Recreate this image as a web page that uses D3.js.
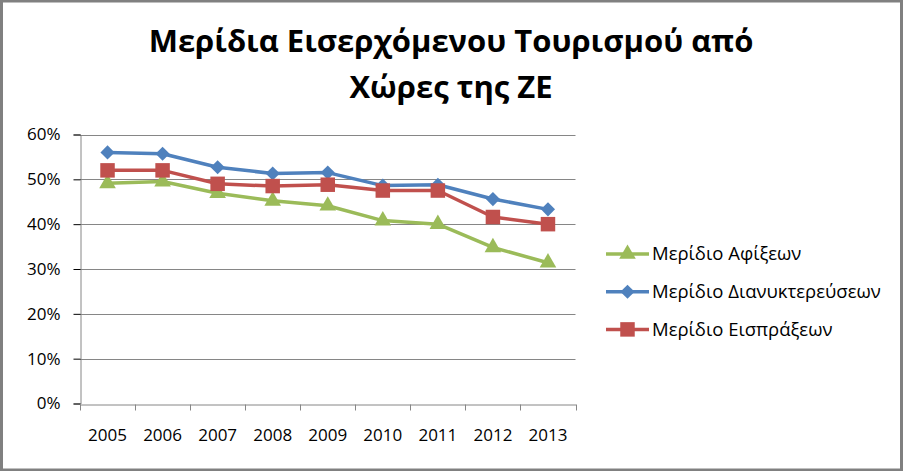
<!DOCTYPE html>
<html>
<head>
<meta charset="utf-8">
<script src="https://cdn.jsdelivr.net/npm/d3@7"></script>
<style>
  body { margin: 0; background: #fff; }
  text { font-family: "Open Sans", "Noto Sans", sans-serif; fill: #000; }
</style>
</head>
<body>
<div id="chart"></div>
<script>
var years = ["2005", "2006", "2007", "2008", "2009", "2010", "2011", "2012", "2013"];
var arrivals = [49.1, 49.5, 46.9, 45.2, 44.1, 40.8, 40.0, 34.8, 31.4];
var nights = [56.0, 55.7, 52.7, 51.3, 51.5, 48.6, 48.8, 45.6, 43.3];
var receipts = [52.0, 52.0, 49.0, 48.5, 48.8, 47.5, 47.5, 41.6, 40.0];
var seriesNames = ["Μερίδιο Αφίξεων", "Μερίδιο Διανυκτερεύσεων", "Μερίδιο Εισπράξεων"];
var yTicks = [0, 10, 20, 30, 40, 50, 60];
var titleLines = ["Μερίδια Εισερχόμενου Τουρισμού από", "Χώρες της ΖΕ"];

var width = 903, height = 471;
var plot = { left: 80, right: 575.5, top: 134.5, bottom: 403.5 };

var series = [
  { name: seriesNames[0], values: arrivals, color: "#9BBB59", marker: d3.symbolTriangle, size: 120, rotate: 0 },
  { name: seriesNames[1], values: nights, color: "#4F81BD", marker: d3.symbolSquare, size: 100, rotate: 45 },
  { name: seriesNames[2], values: receipts, color: "#C0504D", marker: d3.symbolSquare, size: 210, rotate: 0 }
];

var svg = d3.select("#chart").append("svg")
    .attr("width", width)
    .attr("height", height);

// outer frame
svg.append("rect")
    .attr("x", 1.5).attr("y", 1)
    .attr("width", width - 3).attr("height", height - 2)
    .attr("fill", "#fff")
    .attr("stroke", "#808080")
    .attr("stroke-width", 3);

var x = d3.scaleBand()
    .domain(years)
    .range([plot.left, plot.right]);

var y = d3.scaleLinear()
    .domain([0, 60])
    .range([plot.bottom, plot.top]);

// title
svg.selectAll(".title")
    .data(titleLines)
    .enter()
    .append("text")
    .attr("class", "title")
    .attr("x", 451)
    .attr("y", (d, i) => 52 + i * 46)
    .attr("text-anchor", "middle")
    .style("font-size", "31px")
    .style("font-weight", "bold")
    .text(d => d);

// gridlines
svg.append("g")
    .selectAll("line")
    .data(yTicks.slice(1))
    .enter()
    .append("line")
    .attr("x1", plot.left).attr("x2", plot.right)
    .attr("y1", d => Math.round(y(d)) + 0.5).attr("y2", d => Math.round(y(d)) + 0.5)
    .attr("stroke", "#868686")
    .attr("stroke-width", 1);

// y axis
var yAxis = svg.append("g")
    .attr("transform", `translate(${plot.left + 0.5},0)`)
    .call(d3.axisLeft(y).tickValues(yTicks).tickSize(7).tickPadding(13).tickFormat(d => d + "%"));
yAxis.selectAll("text").style("font-size", "17px").style("font-family", "'Open Sans', sans-serif").attr("fill", "#000");

// x axis
var xAxis = svg.append("g")
    .attr("transform", `translate(0,${Math.round(plot.bottom) + 0.5})`)
    .call(d3.axisBottom(x).tickSize(0).tickPadding(24));
xAxis.selectAll("text").style("font-size", "17px").style("font-family", "'Open Sans', sans-serif").attr("fill", "#000");
xAxis.selectAll(".band-tick")
    .data(years.concat(["end"]))
    .enter()
    .append("line")
    .attr("x1", (d, i) => i < years.length ? Math.round(x(d)) + 0.5 : Math.round(plot.right) + 0.5)
    .attr("x2", (d, i) => i < years.length ? Math.round(x(d)) + 0.5 : Math.round(plot.right) + 0.5)
    .attr("y1", 0).attr("y2", 6)
    .attr("stroke", "#868686");
svg.selectAll(".domain").attr("stroke", "#868686");

var line = d3.line()
    .x((d, i) => x(years[i]) + x.bandwidth() / 2)
    .y(d => y(d));

// series lines and markers
series.forEach(function(s) {
  svg.append("path")
      .datum(s.values)
      .attr("d", line)
      .attr("fill", "none")
      .attr("stroke", s.color)
      .attr("stroke-width", 3.5)
      .attr("stroke-linejoin", "round");

  svg.append("g")
      .selectAll("path")
      .data(s.values)
      .enter()
      .append("path")
      .attr("d", d3.symbol().type(s.marker).size(s.size))
      .attr("transform", (d, i) => `translate(${x(years[i]) + x.bandwidth() / 2},${y(d)}) rotate(${s.rotate})`)
      .attr("fill", s.color);
});

// legend
var legend = svg.append("g")
    .selectAll("g")
    .data(series)
    .enter()
    .append("g")
    .attr("transform", (d, i) => `translate(606,${254 + i * 37.7})`);

legend.append("line")
    .attr("x1", 0).attr("x2", 43)
    .attr("stroke", d => d.color)
    .attr("stroke-width", 3.5);

legend.append("path")
    .attr("d", d => d3.symbol().type(d.marker).size(d.size)())
    .attr("transform", d => `translate(21.5,0) rotate(${d.rotate})`)
    .attr("fill", d => d.color);

legend.append("text")
    .attr("x", 46)
    .attr("dy", "0.35em")
    .style("font-size", "18.5px")
    .text(d => d.name);
</script>
</body>
</html>
